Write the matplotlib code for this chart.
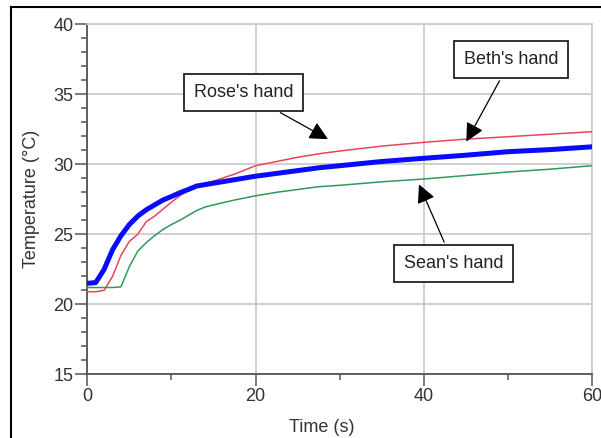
import matplotlib.pyplot as plt
from matplotlib.lines import Line2D

plt.rcParams['font.family'] = ['Liberation Sans', 'DejaVu Sans']

# time (s) and temperature (C)
t = [0, 1, 2, 3, 4, 5, 6, 7, 8, 9, 10, 11, 12, 13, 14, 15, 17.5, 20, 22.5, 25, 27.5, 30,
     35, 40, 45, 50, 55, 60]
beth = [21.5, 21.55, 22.5, 23.9, 24.9, 25.7, 26.3, 26.75, 27.1, 27.45, 27.7, 27.97, 28.2,
        28.45, 28.55, 28.65, 28.9, 29.15, 29.35, 29.55, 29.75, 29.9, 30.2, 30.43, 30.65,
        30.9, 31.05, 31.25]
rose = [20.9, 20.9, 21.0, 22.0, 23.5, 24.5, 25.0, 25.9, 26.3, 26.8, 27.3, 27.75, 28.15,
        28.45, 28.65, 28.8, 29.3, 29.9, 30.2, 30.5, 30.75, 30.95, 31.3, 31.57, 31.8,
        31.97, 32.15, 32.33]
sean = [21.2, 21.2, 21.2, 21.2, 21.25, 22.7, 23.8, 24.4, 24.9, 25.35, 25.7, 26.0, 26.35,
        26.7, 26.95, 27.1, 27.45, 27.75, 28.0, 28.2, 28.4, 28.5, 28.75, 28.95, 29.2,
        29.45, 29.65, 29.9]

labels = ["Rose's hand", "Beth's hand", "Sean's hand"]
label_pos = [(18.6, 35.15), (50.4, 37.5), (43.55, 22.9)]
arrow_tip = [(28.9, 31.7), (44.9, 31.45), (39.3, 28.75)]

fig = plt.figure(figsize=(6.01, 4.38), dpi=100)
ax = fig.add_axes([0.1453, 0.1454, 0.8397, 0.7991])

ax.plot(t, rose, color='#e8455a', lw=1.1, zorder=3)
ax.plot(t, sean, color='#2e9a5c', lw=1.1, zorder=3)
ax.plot(t, beth, color='#0a0aff', lw=3.6, zorder=4)

ax.set_xlim(0, 60)
ax.set_ylim(15, 40)
ax.set_xticks([0, 20, 40, 60])
ax.set_xticks([10, 30, 50], minor=True)
ax.set_yticks([15, 20, 25, 30, 35, 40])
ax.set_yticks([y for y in range(15, 41) if y % 5], minor=True)
ax.grid(True, which='major', color='#cccccc', lw=1.3)
ax.set_axisbelow(True)

for s in ['left', 'bottom']:
    ax.spines[s].set_color('#555555')
    ax.spines[s].set_linewidth(1.3)
for s in ['top', 'right']:
    ax.spines[s].set_color('#cccccc')
    ax.spines[s].set_linewidth(1.3)

ax.tick_params(which='major', length=8.5, width=1.1, color='#555555',
               labelsize=13, labelcolor='#333333', pad=1.5)
ax.tick_params(which='minor', length=4, width=1.1, color='#555555')

ax.set_xlabel('Time (s)', fontsize=13, color='#333333')
ax.xaxis.set_label_coords(0.464, -0.128)
ax.set_ylabel('Temperature (°C)', fontsize=13, color='#333333')
ax.yaxis.set_label_coords(-0.093, 0.5)

for lab, pos, tip in zip(labels, label_pos, arrow_tip):
    ax.annotate(lab, xy=tip, xytext=pos, ha='center', va='center', fontsize=13,
                color='#222222', zorder=5,
                bbox=dict(boxstyle='square,pad=0.55', fc='white', ec='#222222', lw=1.3),
                arrowprops=dict(arrowstyle='-|>,head_length=0.8,head_width=0.4',
                                mutation_scale=14, color='black', lw=0.9))

# frame lines at top and left of the picture
fig.add_artist(Line2D([0.0191, 1], [0.984, 0.984], color='black', lw=1.5))
fig.add_artist(Line2D([0.0191, 0.0191], [0, 0.984], color='black', lw=1.5))

fig.savefig('out.png', dpi=100)
